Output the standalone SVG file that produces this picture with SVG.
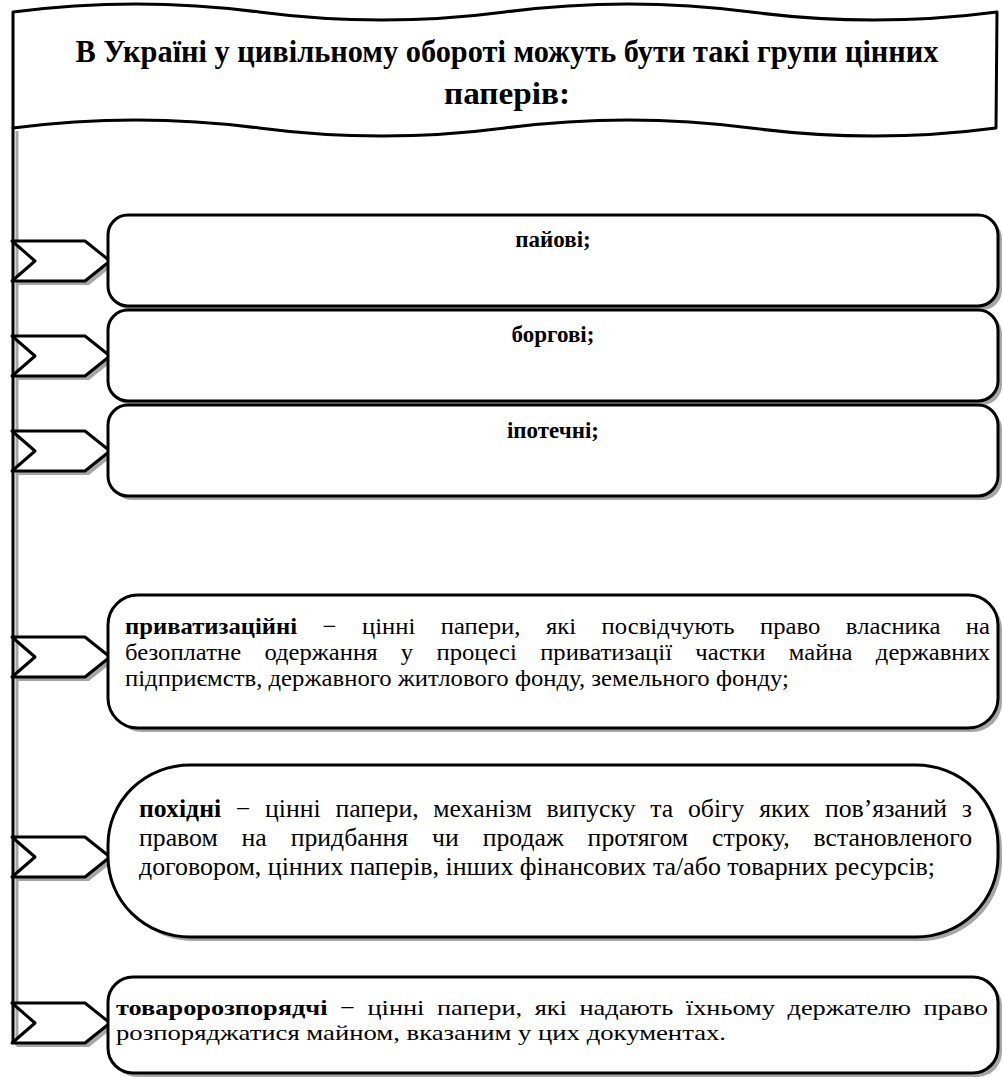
<svg xmlns="http://www.w3.org/2000/svg" width="1003" height="1077" viewBox="0 0 1003 1077">
<style>
text{font-family:"Liberation Serif","Times New Roman","DejaVu Serif",serif;fill:#000}
.ttl{font-size:31px;font-weight:bold}
.lbl{font-size:23px;font-weight:bold}
.b4{font-size:23px}
.b5{font-size:25px}
.b6{font-size:22px}
.b{font-weight:bold}
.shape{fill:#fff;stroke:#000;stroke-width:3;stroke-linejoin:round}
.shadow{fill:#a6a6a6;stroke:none}
</style>
<defs>
<polygon id="chev" points="12,-20 85,-20 110,0 85,20 12,20 35,0"/>
</defs>
<rect width="1003" height="1077" fill="#fff"/>

<g id="title">
<path class="shape" d="M13,12 C95,1.3 177,1.3 259,12 S423,22.7 505,12 S669,1.3 751,12 S915,22.7 997,12 L996,128 C915,138.7 833,138.7 751,128 S587,117.3 505,128 S341,138.7 259,128 S95,117.3 13,128 Z"/>
<text class="ttl" x="507" y="62" text-anchor="middle" textLength="863" lengthAdjust="spacingAndGlyphs">В Україні у цивільному обороті можуть бути такі групи цінних</text>
<text class="ttl" x="507" y="104" text-anchor="middle" textLength="126" lengthAdjust="spacingAndGlyphs">паперів:</text>
</g>

<g id="connectors">
<line x1="17" y1="131" x2="17" y2="1046" stroke="#a6a6a6" stroke-width="3"/>
<use href="#chev" class="shadow" transform="translate(4,265)"/>
<use href="#chev" class="shadow" transform="translate(4,360)"/>
<use href="#chev" class="shadow" transform="translate(4,455)"/>
<use href="#chev" class="shadow" transform="translate(4,661)"/>
<use href="#chev" class="shadow" transform="translate(4,861)"/>
<use href="#chev" class="shadow" transform="translate(4,1027)"/>
<use href="#chev" class="shape" transform="translate(0,261)"/>
<use href="#chev" class="shape" transform="translate(0,356)"/>
<use href="#chev" class="shape" transform="translate(0,451)"/>
<use href="#chev" class="shape" transform="translate(0,657)"/>
<use href="#chev" class="shape" transform="translate(0,857)"/>
<use href="#chev" class="shape" transform="translate(0,1023)"/>
<line x1="13" y1="127" x2="13" y2="1043" stroke="#000" stroke-width="3"/>
</g>

<g id="node-paiovi">
<rect class="shadow" x="112" y="219" width="890" height="91" rx="20"/>
<rect class="shape" x="108" y="215" width="890" height="91" rx="20"/>
<text class="lbl" x="553" y="247" text-anchor="middle">пайові;</text>
</g>

<g id="node-borgovi">
<rect class="shadow" x="112" y="314" width="890" height="91" rx="20"/>
<rect class="shape" x="108" y="310" width="890" height="91" rx="20"/>
<text class="lbl" x="553" y="342" text-anchor="middle">боргові;</text>
</g>

<g id="node-ipotechni">
<rect class="shadow" x="112" y="409" width="890" height="91" rx="20"/>
<rect class="shape" x="108" y="405" width="890" height="91" rx="20"/>
<text class="lbl" x="553" y="438" text-anchor="middle">іпотечні;</text>
</g>

<g id="node-pryvatyzatsiini">
<rect class="shadow" x="112" y="599" width="890" height="133" rx="30"/>
<rect class="shape" x="108" y="595" width="890" height="133" rx="30"/>
<text class="b4" x="125" y="634" textLength="865" lengthAdjust="spacingAndGlyphs" word-spacing="18"><tspan class="b">приватизаційні</tspan> − цінні папери, які посвідчують право власника на</text>
<text class="b4" x="125" y="660" textLength="865" lengthAdjust="spacingAndGlyphs" word-spacing="16">безоплатне одержання у процесі приватизації частки майна державних</text>
<text class="b4" x="125" y="686" textLength="664" lengthAdjust="spacingAndGlyphs">підприємств, державного житлового фонду, земельного фонду;</text>
</g>

<g id="node-pokhidni">
<rect class="shadow" x="112" y="769" width="890" height="172" rx="82" ry="80"/>
<rect class="shape" x="108" y="765" width="890" height="172" rx="82" ry="80"/>
<text class="b5" x="139" y="817" textLength="833" lengthAdjust="spacingAndGlyphs" word-spacing="8"><tspan class="b">похідні</tspan> − цінні папери, механізм випуску та обігу яких пов’язаний з</text>
<text class="b5" x="139" y="846" textLength="833" lengthAdjust="spacingAndGlyphs" word-spacing="17">правом на придбання чи продаж протягом строку, встановленого</text>
<text class="b5" x="139" y="875" textLength="796" lengthAdjust="spacingAndGlyphs">договором, цінних паперів, інших фінансових та/або товарних ресурсів;</text>
</g>

<g id="node-tovarorozporiadchi">
<rect class="shadow" x="112" y="981" width="890" height="96" rx="25"/>
<rect class="shape" x="108" y="977" width="890" height="96" rx="25"/>
<text class="b6" x="116" y="1015" textLength="872" lengthAdjust="spacingAndGlyphs" word-spacing="5"><tspan class="b">товаророзпорядчі</tspan> − цінні папери, які надають їхньому держателю право</text>
<text class="b6" x="116" y="1040" textLength="610" lengthAdjust="spacingAndGlyphs">розпоряджатися майном, вказаним у цих документах.</text>
</g>
</svg>
